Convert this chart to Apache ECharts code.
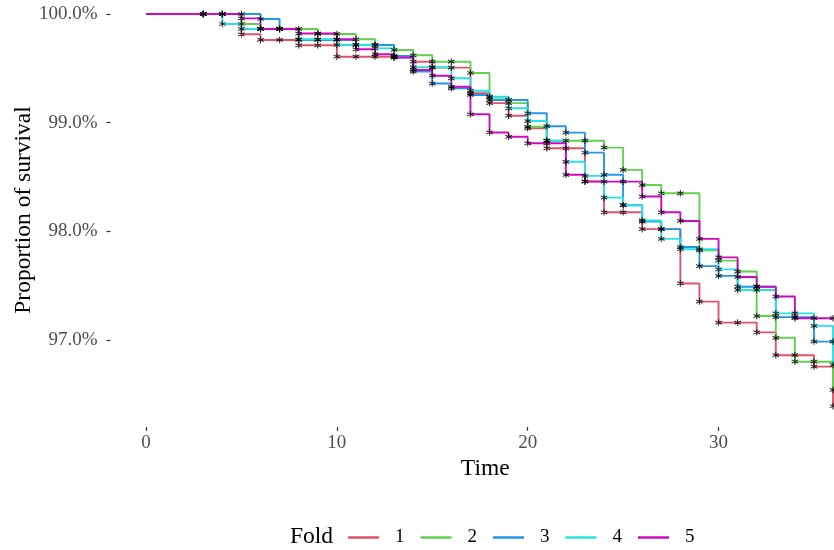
<!DOCTYPE html>
<html><head><meta charset="utf-8">
<script src="https://cdn.jsdelivr.net/npm/echarts@6/dist/echarts.min.js"></script>
<style>html,body{margin:0;padding:0;background:#fff}#c{width:834px;height:550px}</style>
</head><body><div id="c"></div>
<script>
// ---- data ----
const foldNames = ['1', '2', '3', '4', '5'];
const foldColors = ['#DF536B', '#61D04F', '#2297E6', '#28E2E5', '#CD0BBC'];

// change points (time) and survival (%) from that time on
const fold1Time = [0, 5, 6, 8, 10, 14, 15, 17, 18, 19, 20, 21, 23, 24, 26, 28, 29, 30, 32, 33, 35, 36];
const fold1Surv = [100, 99.813, 99.761, 99.712, 99.607, 99.561, 99.506, 99.27, 99.18, 99.064, 98.948, 98.764, 98.46, 98.175, 98.02, 97.52, 97.353, 97.16, 97.07, 96.86, 96.755, 96.39];

const fold2Time = [0, 5, 6, 9, 11, 12, 13, 14, 15, 17, 18, 19, 20, 21, 24, 25, 26, 27, 29, 30, 31, 32, 33, 34, 36];
const fold2Surv = [100, 99.908, 99.862, 99.816, 99.767, 99.715, 99.669, 99.62, 99.561, 99.457, 99.232, 99.18, 98.962, 98.834, 98.77, 98.565, 98.426, 98.35, 97.825, 97.73, 97.63, 97.22, 97.02, 96.80, 96.54];

const fold3Time = [0, 6, 7, 8, 11, 13, 14, 15, 16, 17, 18, 20, 21, 22, 23, 24, 25, 26, 27, 28, 29, 30, 31, 33, 35];
const fold3Surv = [100, 99.954, 99.862, 99.761, 99.715, 99.614, 99.47, 99.36, 99.316, 99.255, 99.209, 99.086, 98.967, 98.908, 98.724, 98.52, 98.24, 98.09, 98.02, 97.855, 97.68, 97.59, 97.49, 97.21, 96.985];

const fold4Time = [0, 4, 5, 8, 10, 12, 13, 14, 16, 17, 18, 19, 20, 21, 22, 23, 24, 25, 26, 27, 28, 30, 31, 33, 35, 36];
const fold4Surv = [100, 99.908, 99.862, 99.767, 99.715, 99.684, 99.60, 99.51, 99.408, 99.294, 99.239, 99.132, 99.015, 98.834, 98.64, 98.51, 98.31, 98.24, 98.10, 97.93, 97.835, 97.65, 97.46, 97.245, 97.13, 96.77];

const fold5Time = [0, 5, 6, 8, 10, 11, 12, 13, 14, 15, 16, 17, 18, 19, 20, 22, 23, 26, 27, 28, 29, 30, 31, 32, 33, 34];
const fold5Surv = [100, 99.96, 99.862, 99.82, 99.767, 99.675, 99.63, 99.60, 99.485, 99.432, 99.33, 99.077, 98.91, 98.87, 98.81, 98.52, 98.457, 98.32, 98.175, 98.095, 97.93, 97.76, 97.58, 97.49, 97.40, 97.20];

const censorTimes = [3, 4, 5, 6, 7, 8, 9, 10, 11, 12, 13, 14, 15, 16, 17, 18, 19, 20, 21, 22, 23, 24, 25, 26, 27, 28, 29, 30, 31, 32, 33, 34, 35, 36];
const followUpEnd = 36;

const xTicks = [0, 10, 20, 30];
const yTicks = [97, 98, 99, 100];

// ---- build ----
const foldTimes = [fold1Time, fold2Time, fold3Time, fold4Time, fold5Time];
const foldSurvs = [fold1Surv, fold2Surv, fold3Surv, fold4Surv, fold5Surv];

function survAt(times, surv, t) {
  let v = surv[0];
  for (let i = 0; i < times.length; i++) { if (times[i] <= t) v = surv[i]; }
  return v;
}

const serif = 'Liberation Serif';
const series = [];
foldNames.forEach((name, k) => {
  const times = foldTimes[k], surv = foldSurvs[k];
  const data = times.map((t, i) => [t, surv[i]]);
  if (times[times.length - 1] < followUpEnd) data.push([followUpEnd, surv[surv.length - 1]]);
  series.push({
    name: name, type: 'line', step: 'end', data: data, showSymbol: false, symbol: 'none',
    lineStyle: { color: foldColors[k], width: 1.9 }, itemStyle: { color: foldColors[k] },
    z: 2 + k, silent: true
  });
});
foldNames.forEach((name, k) => {
  series.push({
    name: 'censor' + name, type: 'scatter',
    data: censorTimes.map(t => [t, survAt(foldTimes[k], foldSurvs[k], t)]),
    symbol: 'path://M5,0L5,10M0.67,2.5L9.33,7.5M0.67,7.5L9.33,2.5',
    symbolSize: 6.5,
    itemStyle: { color: 'none', borderColor: '#000', borderWidth: 1.1 },
    z: 10, silent: true
  });
});

const chart = echarts.init(document.getElementById('c'), null, { renderer: 'canvas' });
chart.setOption({
  animation: false,
  backgroundColor: '#fff',
  title: {
    text: 'Fold', left: 290, top: 525, padding: 0,
    textStyle: { fontFamily: serif, fontSize: 23.5, fontWeight: 'normal', color: '#000' }
  },
  legend: {
    data: foldNames, left: 348, top: 528, icon: 'rect', itemWidth: 31, itemHeight: 2.5, itemGap: 16,
    selectedMode: false, padding: 0,
    textStyle: { fontFamily: serif, fontSize: 19, color: '#000', padding: [0, 0, 0, 11] }
  },
  grid: { left: 110.5, right: 0, top: 0, bottom: 123.1, outerBoundsMode: 'none', containLabel: false },
  xAxis: {
    type: 'value', min: -1.86, max: 36.05,
    axisLine: { show: false, onZero: false }, splitLine: { show: false },
    axisTick: { show: true, customValues: xTicks, length: 4, lineStyle: { color: '#333', width: 1.2 } },
    axisLabel: { customValues: xTicks, margin: 7, color: '#4D4D4D', fontFamily: serif, fontSize: 19 },
    name: 'Time', nameLocation: 'middle', nameGap: 30, nameMoveOverlap: false,
    nameTextStyle: { fontFamily: serif, fontSize: 23.5, color: '#000', padding: [0, 0, 0, 26] }
  },
  yAxis: {
    type: 'value', min: 96.2, max: 100.1288,
    axisLine: { show: false, onZero: false }, splitLine: { show: false },
    axisTick: { show: true, customValues: yTicks, length: 4, lineStyle: { color: '#333', width: 1.2 } },
    axisLabel: { customValues: yTicks, margin: 13, color: '#4D4D4D', fontFamily: serif, fontSize: 19,
      formatter: v => v.toFixed(1) + '%' },
    name: 'Proportion of survival', nameLocation: 'middle', nameRotate: 90, nameGap: 75, nameMoveOverlap: false,
    nameTextStyle: { fontFamily: serif, fontSize: 23.5, color: '#000', padding: [0, 0, 0, 7] }
  },
  series: series
});
</script></body></html>
